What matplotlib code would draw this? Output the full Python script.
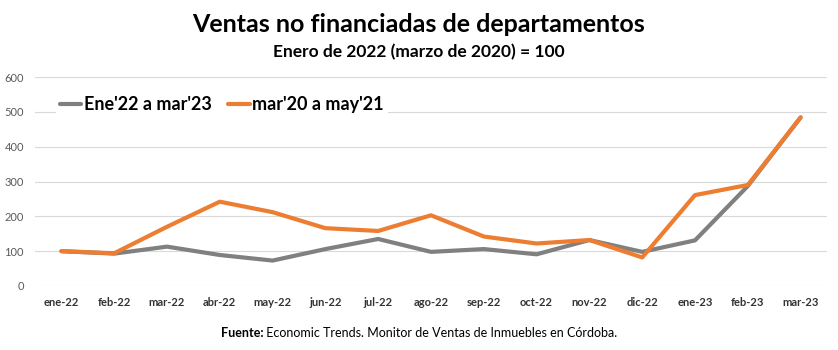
import matplotlib
matplotlib.use("Agg")
import matplotlib.pyplot as plt

plt.rcParams['font.family'] = ['Lato', 'DejaVu Sans']

meses = ["ene-22", "feb-22", "mar-22", "abr-22", "may-22", "jun-22", "jul-22", "ago-22",
         "sep-22", "oct-22", "nov-22", "dic-22", "ene-23", "feb-23", "mar-23"]
serie_2022 = [100, 93, 113, 89, 73, 106, 135, 98, 106, 91, 132, 98, 131, 287, 484]
serie_2020 = [100, 94, 170, 242, 212, 166, 158, 203, 142, 122, 132, 82, 261, 290, 484]

gris = "#808080"
naranja = "#ED7D31"

fig = plt.figure(figsize=(8.38, 3.5), dpi=100)
ax = fig.add_axes([35 / 838, 64 / 350, 792 / 838, 209 / 350])

x = range(len(meses))
ax.plot(x, serie_2022, color=gris, lw=3, label="Ene'22 a mar'23", solid_capstyle="round")
ax.plot(x, serie_2020, color=naranja, lw=3, label="mar'20 a may'21", solid_capstyle="round")

ax.set_xlim(-0.5, len(meses) - 0.5)
ax.set_ylim(0, 600)
ax.set_yticks(range(0, 601, 100))
ax.set_xticks(list(x))
ax.set_xticklabels(meses, fontsize=8, fontweight="bold", color="#333333")
ax.tick_params(axis="y", labelsize=8, colors="#595959", length=0, pad=8)
ax.tick_params(axis="x", length=0, pad=8)
ax.grid(axis="y", color="#d9d9d9", lw=0.8)
ax.set_axisbelow(True)
for s in ax.spines.values():
    s.set_visible(False)

leg = ax.legend(loc="upper left", bbox_to_anchor=(0.015, 0.97), ncol=2, frameon=True,
                prop={"size": 13, "weight": "bold"}, handlelength=1.2, handletextpad=0.15,
                columnspacing=0.9, borderpad=0.2, fancybox=False)
leg.get_frame().set_edgecolor("none")
leg.get_frame().set_facecolor("white")
leg.get_frame().set_alpha(1)

fig.text(0.5, 1 - 25 / 350, "Ventas no financiadas de departamentos", ha="center", va="center",
         fontsize=18, fontweight="bold")
fig.text(0.5, 1 - 52 / 350, "Enero de 2022 (marzo de 2020) = 100", ha="center", va="center",
         fontsize=12.5, fontweight="bold")

# fuente: parte en negrita + resto normal, centrado en conjunto
y_f = 1 - 333 / 350
t1 = fig.text(0, y_f, "Fuente:", ha="left", va="center", fontsize=9, fontweight="bold")
t2 = fig.text(0, y_f, " Economic Trends. Monitor de Ventas de Inmuebles en Córdoba.",
              ha="left", va="center", fontsize=9)
r = fig.canvas.get_renderer()
w1 = t1.get_window_extent(r).width / 838
w2 = t2.get_window_extent(r).width / 838
x0 = 0.5 - (w1 + w2) / 2
t1.set_x(x0)
t2.set_x(x0 + w1)

fig.savefig("out.png", dpi=100)
